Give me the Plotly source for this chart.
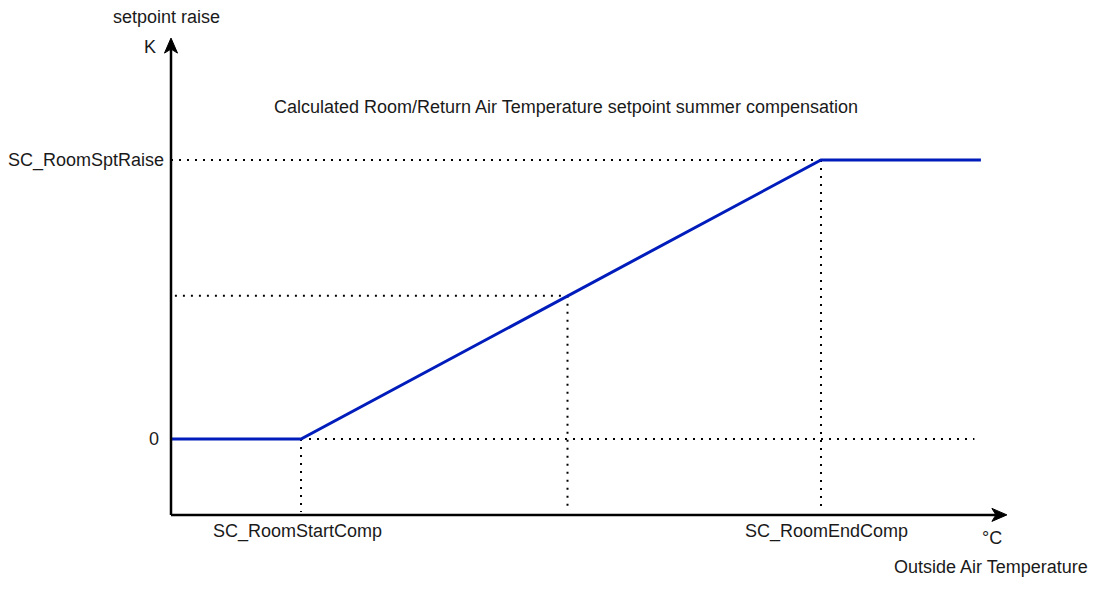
import plotly.graph_objects as go

# ---- data (schematic units: x in °C steps, y in K of setpoint raise) ----
x_start_comp = 1.0          # SC_RoomStartComp
x_end_comp = 5.0            # SC_RoomEndComp
x_flat_end = 6.23           # end of drawn curve
x_zero_dot_end = 6.18       # end of dotted zero line
spt_raise = 1.0             # SC_RoomSptRaise
x_mid = 3.05                # example point on the ramp
y_mid = 0.513
curve_x = [0.0, x_start_comp, x_end_comp, x_flat_end]
curve_y = [0.0, 0.0, spt_raise, spt_raise]

axis_x_min = 0.0
axis_x_max = 6.43
axis_y_min = -0.272
axis_y_max = 1.437

tick_labels = {"raise": "SC_RoomSptRaise", "zero": "0",
               "start": "SC_RoomStartComp", "end": "SC_RoomEndComp"}
title_text = "Calculated Room/Return Air Temperature setpoint summer compensation"
y_title = "setpoint raise"
y_unit = "K"
x_title = "Outside Air Temperature"
x_unit = "°C"

FONT = "Liberation Sans, Arial, sans-serif"
TXT = "#1a1a1a"
BLUE = "#001DBC"
DOT = dict(color="black", width=2, dash="2px,6px")

fig = go.Figure()

# dotted guides
guides = [
    ([axis_x_min, x_end_comp], [spt_raise, spt_raise]),
    ([x_end_comp, x_end_comp], [spt_raise, axis_y_min + 0.01]),
    ([x_start_comp, x_zero_dot_end], [0, 0]),
    ([x_start_comp, x_start_comp], [0, axis_y_min + 0.01]),
    ([axis_x_min + 0.03, x_mid], [y_mid, y_mid]),
    ([x_mid, x_mid], [y_mid, axis_y_min + 0.02]),
]
for gx, gy in guides:
    fig.add_trace(go.Scatter(x=gx, y=gy, mode="lines", line=DOT,
                             hoverinfo="skip", showlegend=False))

# curve
fig.add_trace(go.Scatter(x=curve_x, y=curve_y, mode="lines",
                         line=dict(color=BLUE, width=3), showlegend=False))

# axes lines
fig.add_shape(type="line", x0=axis_x_min, x1=axis_x_max - 0.05, y0=axis_y_min, y1=axis_y_min,
              line=dict(color="black", width=2.5))
fig.add_shape(type="line", x0=axis_x_min, x1=axis_x_min, y0=axis_y_min, y1=axis_y_max - 0.02,
              line=dict(color="black", width=2.5))
# arrowheads (pixel-sized, anchored at axis tips)
fig.add_shape(type="path", xsizemode="pixel", ysizemode="pixel",
              xanchor=axis_x_max, yanchor=axis_y_min,
              path="M 0 0 L -15 6.5 L -11 0 L -15 -6.5 Z",
              fillcolor="black", line=dict(color="black", width=1))
fig.add_shape(type="path", xsizemode="pixel", ysizemode="pixel",
              xanchor=axis_x_min, yanchor=axis_y_max,
              path="M 0 0 L -6.5 -15 L 0 -11 L 6.5 -15 Z",
              fillcolor="black", line=dict(color="black", width=1))

def ann(text, x, y, xanchor="center", yanchor="middle", xshift=0, yshift=0):
    fig.add_annotation(text=text, x=x, y=y, xref="x", yref="y", showarrow=False,
                       xanchor=xanchor, yanchor=yanchor, xshift=xshift, yshift=yshift,
                       font=dict(family=FONT, size=18, color=TXT), borderpad=0)

ann(y_title, axis_x_min, axis_y_max, yshift=21, xshift=-5)
ann(y_unit, axis_x_min, axis_y_max, xanchor="right", yshift=-9, xshift=-14)
ann(title_text, 3.04, 1.19)
ann(tick_labels["raise"], axis_x_min, spt_raise, xanchor="right", xshift=-6)
ann(tick_labels["zero"], axis_x_min, 0, xanchor="right", xshift=-11)
ann(tick_labels["start"], x_start_comp, axis_y_min, yanchor="top", xshift=-4, yshift=-5)
ann(tick_labels["end"], x_end_comp, axis_y_min, yanchor="top", xshift=5, yshift=-5)
ann(x_unit, axis_x_max, axis_y_min, yshift=-23, xshift=-15)
ann(x_title, axis_x_max, axis_y_min, yshift=-52, xshift=-16)

# page body has an 8px margin, so the figure is 8px smaller and ranges start at ref pixel 8
fig.update_layout(
    width=1099, height=583,
    margin=dict(l=0, r=0, t=0, b=0),
    paper_bgcolor="white", plot_bgcolor="white",
    xaxis=dict(range=[(8 - 171) / 130, (1107 - 171) / 130], visible=False, fixedrange=True),
    yaxis=dict(range=[(439 - 591) / 279, (439 - 8) / 279], visible=False, fixedrange=True),
    showlegend=False,
)

fig.write_html("out.html")
